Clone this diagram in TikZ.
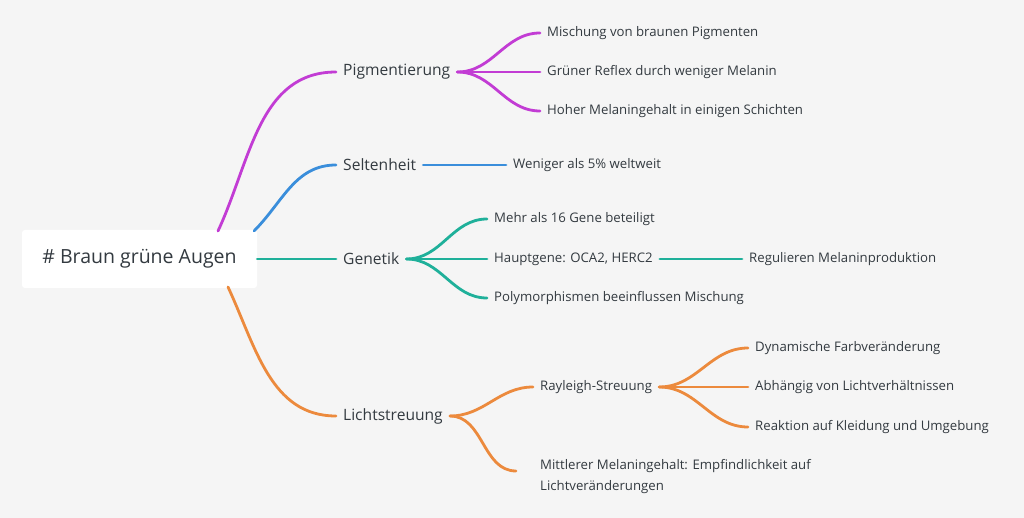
\documentclass[tikz,border=0pt]{standalone}
\usepackage{fontspec}
\setmainfont{Open Sans}
\usetikzlibrary{positioning}
\definecolor{bgcol}{HTML}{F5F5F5}
\definecolor{txtcol}{HTML}{333A40}
\definecolor{pigcol}{HTML}{C23CD4}
\definecolor{selcol}{HTML}{3A8EDB}
\definecolor{gencol}{HTML}{1FB09A}
\definecolor{lichtcol}{HTML}{EC8A3D}
\tikzset{font={\fontsize{13.2}{21}\selectfont}}

\begin{document}
\begin{tikzpicture}[x=1pt,y=-1pt,
    leaf/.style={anchor=west,text=txtcol,inner xsep=7pt,inner ysep=2pt},
    branch/.style={leaf,font={\fontsize{15.6}{18}\selectfont}},
    edge/.style={line width=2.8pt,line cap=round}]

  \fill[bgcol] (0,0) rectangle (1024,518);
  \useasboundingbox (0,0) rectangle (1024,518);

  % root
  \node[fill=white,rounded corners=3pt,minimum width=235pt,minimum height=58pt,
        text=txtcol,font={\fontsize{19.5}{22}\selectfont}] (root) at (139.5,259) {\# Braun grüne Augen};
  \coordinate (rpig) at (218,231);
  \coordinate (rsel) at (254,231);
  \coordinate (rlicht) at (228,287);

  % main branches
  \node[branch] (pig) at (336,72) {Pigmentierung};
  \node[branch] (sel) at (336,165) {Seltenheit};
  \node[branch] (gen) at (336,259) {Genetik};
  \node[branch] (licht) at (336,416) {Lichtstreuung};

  % leaves
  \node[leaf] (pig1) at (540,33) {Mischung von braunen Pigmenten};
  \node[leaf] (pig2) at (540,72) {Grüner Reflex durch weniger Melanin};
  \node[leaf] (pig3) at (540,111) {Hoher Melaningehalt in einigen Schichten};
  \node[leaf] (sel1) at (506,165) {Weniger als 5\% weltweit};
  \node[leaf] (gen1) at (487,219) {Mehr als 16 Gene beteiligt};
  \node[leaf] (gen2) at (487,259) {Hauptgene: OCA2, HERC2};
  \node[leaf] (gen3) at (487,298) {Polymorphismen beeinflussen Mischung};
  \node[leaf] (gen21) at (742,259) {Regulieren Melaninproduktion};
  \node[leaf] (licht1) at (533,387) {Rayleigh-Streuung};
  \node[leaf,align=left,anchor=north west] (licht2) at (533,457) {Mittlerer Melaningehalt: Empfindlichkeit auf\\Lichtveränderungen};
  \coordinate (licht2in) at (516,471);
  \node[leaf] (ray1) at (748,348) {Dynamische Farbveränderung};
  \node[leaf] (ray2) at (748,387) {Abhängig von Lichtverhältnissen};
  \node[leaf] (ray3) at (748,427) {Reaktion auf Kleidung und Umgebung};

  % connectors
  \draw[edge,pigcol] (rpig) to[out=65,in=180] (pig.west);
  \draw[edge,selcol] (rsel) to[out=45,in=180] (sel.west);
  \draw[edge,gencol] (root.east) -- (gen.west);
  \draw[edge,lichtcol] (rlicht) to[out=-65,in=180] (licht.west);

  \foreach \n in {pig1,pig2,pig3}
    \draw[edge,pigcol] (pig.east) to[out=0,in=180] (\n.west);
  \draw[edge,selcol] (sel.east) -- (sel1.west);
  \foreach \n in {gen1,gen2,gen3}
    \draw[edge,gencol] (gen.east) to[out=0,in=180] (\n.west);
  \draw[edge,gencol] (gen2.east) -- (gen21.west);
  \draw[edge,lichtcol] (licht.east) to[out=0,in=180] (licht1.west);
  \draw[edge,lichtcol] (licht.east) to[out=0,in=180] (licht2in);
  \foreach \n in {ray1,ray2,ray3}
    \draw[edge,lichtcol] (licht1.east) to[out=0,in=180] (\n.west);

\end{tikzpicture}
\end{document}
